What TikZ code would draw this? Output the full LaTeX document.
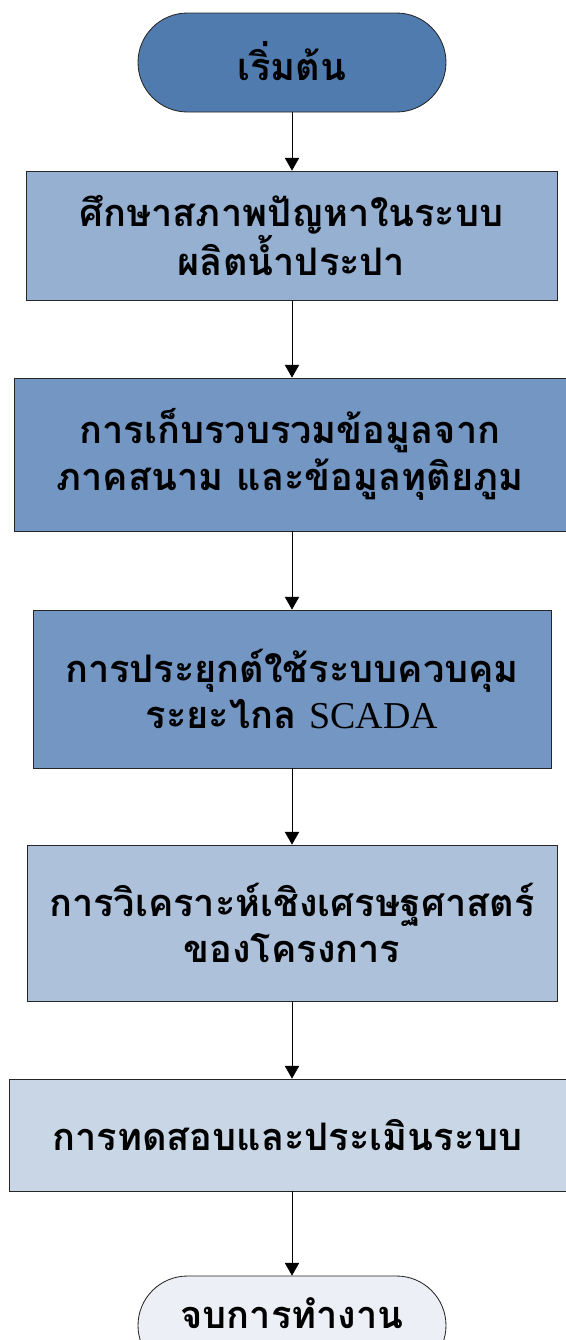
\documentclass[tikz,border=0pt]{standalone}
\usepackage{fontspec}
\usetikzlibrary{arrows.meta}
\newfontfamily\thaifont[Script=Thai]{Loma}
\newfontfamily\latinfont{Liberation Serif}
\definecolor{startfill}{HTML}{4F7BAE}
\definecolor{studyfill}{HTML}{95B0D0}
\definecolor{collectfill}{HTML}{7396C2}
\definecolor{econfill}{HTML}{ADC1DA}
\definecolor{testfill}{HTML}{C8D6E6}
\definecolor{endfill}{HTML}{ECEFF5}
\begin{document}
\begin{tikzpicture}[>={Triangle[width=0.36cm,length=0.32cm]},
  stepbox/.style={draw=black!85,line width=0.6pt,align=center,inner sep=0pt,
    font=\thaifont\bfseries\fontsize{27}{33}\selectfont},
  terminal/.style={stepbox,minimum width=7.7cm,minimum height=2.475cm,rounded corners=1.2375cm}]
\useasboundingbox (0,0) rectangle (14.15,-33.5);
\node[terminal,fill=startfill] (start) at (7.3,-1.5625) {\raisebox{0.1cm}{เริ่มต้น}};
\node[stepbox,fill=studyfill,minimum width=13.275cm,minimum height=3.225cm] (study) at (7.2875,-5.8875) {ศึกษาสภาพปัญหาในระบบ\\ผลิตน้ำประปา};
\node[stepbox,fill=collectfill,minimum width=13.8cm,minimum height=3.825cm] (collect) at (7.25,-11.3625) {การเก็บรวบรวมข้อมูลจาก\\ภาคสนาม และข้อมูลทุติยภูม};
\node[stepbox,fill=collectfill,minimum width=12.95cm,minimum height=3.95cm] (scada) at (7.3,-17.225) {การประยุกต์ใช้ระบบควบคุม\\ระยะไกล {\latinfont\mdseries SCADA}};
\node[stepbox,fill=econfill,minimum width=13.25cm,minimum height=3.9cm] (econ) at (7.3,-23.075) {การวิเคราะห์เชิงเศรษฐศาสตร์\\ของโครงการ};
\node[stepbox,fill=testfill,minimum width=13.925cm,minimum height=2.8cm] (test) at (7.1875,-28.375) {การทดสอบและประเมินระบบ};
\node[terminal,fill=endfill] (finish) at (7.3,-33.1375) {\raisebox{0.6cm}{จบการทำงาน}};
\draw[->] (start) -- (study.north -| start);
\draw[->] (study.south -| start) -- (collect.north -| start);
\draw[->] (collect.south -| start) -- (scada.north -| start);
\draw[->] (scada.south -| start) -- (econ.north -| start);
\draw[->] (econ.south -| start) -- (test.north -| start);
\draw[->] (test.south -| start) -- (finish);
\end{tikzpicture}
\end{document}
